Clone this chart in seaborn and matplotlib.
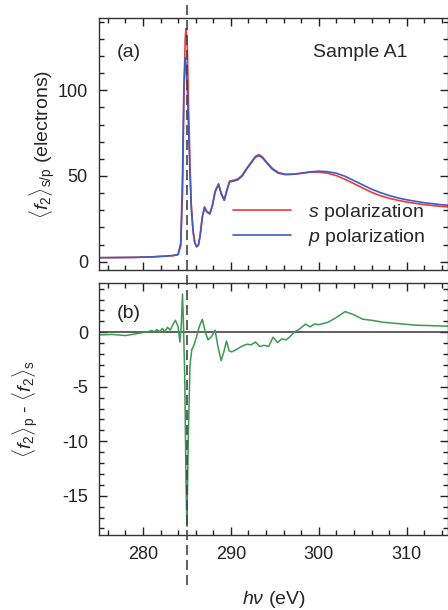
import numpy as np
import pandas as pd
import matplotlib
matplotlib.use("Agg")
import matplotlib.pyplot as plt
import seaborn as sns
from matplotlib.lines import Line2D
from matplotlib.ticker import MultipleLocator
from matplotlib.transforms import blended_transform_factory

# Painel (a): <f2> para polarizacao s e p
energia_a = [275, 277, 279, 281, 282.5, 283.5, 284.0, 284.3, 284.5, 284.65, 284.8, 284.9,
             285.05, 285.2, 285.35, 285.5, 285.7, 285.9, 286.1, 286.3, 286.5, 286.75, 287.0,
             287.25, 287.6, 287.9, 288.2, 288.6, 288.9, 289.25, 289.55, 289.85, 290.3, 290.8,
             291.3, 291.8, 292.3, 292.8, 293.2, 293.6, 294.1, 294.7, 295.4, 296.2, 297.0,
             298.0, 299.0, 300.0, 301.0, 302.0, 303.0, 304.0, 305.0, 306.0, 307.0, 308.0,
             309.0, 310.0, 311.0, 312.0, 313.0, 314.0, 315.0]
f2_s = [2.3, 2.4, 2.5, 2.8, 3.2, 3.6, 4.2, 9, 40, 92, 130, 136,
        124, 88, 57, 33, 18, 11, 8.7, 9.5, 15, 26, 32,
        29.5, 28, 33, 41, 45.5, 40, 36, 42, 47, 47.5, 48.3,
        50.5, 54.5, 58, 61.5, 62.5, 61, 58, 54.5, 52, 51, 51,
        51.5, 52.2, 52.3, 51.6, 50.2, 48, 45.5, 43, 40.5, 38.5, 37,
        35.8, 34.8, 34, 33.3, 32.7, 32.2, 31.8]
f2_p = [2.3, 2.4, 2.5, 2.8, 3.2, 3.6, 4.2, 11, 50, 102, 119, 115,
        100, 76, 51, 31, 17.5, 11, 8.8, 9.6, 15, 26, 31.5,
        29, 27.8, 32.5, 40.5, 45, 39.5, 35.8, 41.5, 46.5, 47, 47.8,
        50, 54, 57.5, 61, 61.8, 60.5, 57.5, 54, 51.6, 50.8, 51,
        51.6, 52.4, 52.8, 52.5, 51.6, 49.8, 47.3, 44.8, 42.3, 40.3, 38.6,
        37.2, 36.1, 35.2, 34.4, 33.8, 33.2, 32.8]

# Painel (b): diferenca <f2>p - <f2>s
energia_b = [275, 276.5, 278, 279.5, 280.5, 281.0, 281.3, 281.6, 281.9, 282.2, 282.5, 282.8,
             283.1, 283.4, 283.7, 284.0, 284.2, 284.35, 284.5, 284.6, 284.75, 284.9, 285.0,
             285.15, 285.35, 285.55, 285.8, 286.1, 286.4, 286.75, 287.1, 287.4, 287.8, 288.2,
             288.5, 288.9, 289.2, 289.5, 289.8, 290.1, 290.6, 291.2, 291.8, 292.3, 292.8,
             293.3, 293.8, 294.3, 294.8, 295.3, 295.8, 296.3, 296.8, 297.2, 297.8, 298.5,
             299.0, 299.5, 300.0, 301.0, 302.0, 303.0, 304.0, 305.0, 306.0, 307.5, 309.0,
             311.0, 313.0, 315.0]
dif_ps = [-0.25, -0.2, -0.3, -0.1, 0.05, 0.15, 0.05, 0.25, 0.05, 0.35, 0.05, 0.45,
          0.2, 0.7, 1.1, 0.5, -0.9, 0.5, 3.5, 1.0, -4, -14, -17.8,
          -10, -3, -1.6, -1.2, -0.4, 0.5, 1.2, 0.0, -0.7, -0.4, 0.2,
          -1.2, -2.6, -1.8, -0.8, -1.7, -1.8, -1.6, -1.3, -1.1, -1.15, -0.9,
          -1.3, -1.2, -1.3, -0.45, -0.95, -0.6, -0.7, -0.35, 0.0, 0.3, 0.75,
          0.5, 0.75, 0.7, 0.9, 1.35, 1.9, 1.6, 1.2, 1.1, 0.9, 0.8,
          0.65, 0.6, 0.55]

borda = 285.0

sns.set_theme(style="ticks")
plt.rcParams["font.family"] = ["Liberation Sans", "DejaVu Sans"]
plt.rcParams["mathtext.fontset"] = "custom"
plt.rcParams["mathtext.rm"] = "Liberation Sans"
plt.rcParams["mathtext.it"] = "Liberation Sans:italic"
plt.rcParams["mathtext.bf"] = "Liberation Sans:bold"
plt.rcParams["axes.unicode_minus"] = False

fig = plt.figure(figsize=(4.48, 6.10), dpi=100)
ax1 = fig.add_axes([0.221, 0.557, 0.779, 0.413])
ax2 = fig.add_axes([0.221, 0.123, 0.779, 0.4136])

sns.lineplot(x=energia_a, y=f2_s, ax=ax1, color="#ee3a3a", linewidth=1.2,
             label=r"$s$ polarization")
sns.lineplot(x=energia_a, y=f2_p, ax=ax1, color="#3d5cc4", linewidth=1.2,
             label=r"$p$ polarization")
sns.lineplot(x=energia_b, y=dif_ps, ax=ax2, color="#3a9a52", linewidth=1.1, legend=False)
ax2.axhline(0, color="#444444", linewidth=1.2, zorder=1)

for ax in (ax1, ax2):
    ax.set_xlim(275, 314.7)
    ax.xaxis.set_major_locator(MultipleLocator(10))
    ax.xaxis.set_minor_locator(MultipleLocator(2))
    ax.tick_params(which="both", direction="in", top=True, right=True,
                   labelsize=13, colors="#222222", width=1, pad=8)
    ax.tick_params(which="major", length=6)
    ax.tick_params(which="minor", length=3.5)
    for s in ax.spines.values():
        s.set_color("#333333")
        s.set_linewidth(1)

ax1.set_ylim(-5, 142)
ax1.yaxis.set_major_locator(MultipleLocator(50))
ax1.yaxis.set_minor_locator(MultipleLocator(10))
ax1.tick_params(labelbottom=False)

ax2.set_ylim(-18.6, 4.55)
ax2.yaxis.set_major_locator(MultipleLocator(5))
ax2.yaxis.set_minor_locator(MultipleLocator(1))

ax1.set_ylabel(r"$\langle f_2\rangle_{\rm s/p}$ (electrons)", fontsize=14)
ax2.set_ylabel(r"$\langle f_2\rangle_{\rm p}$ - $\langle f_2\rangle_{\rm s}$", fontsize=14)
ax1.yaxis.set_label_coords(-0.12, 0.5)
ax2.yaxis.set_label_coords(-0.17, 0.5)
ax2.set_xlabel(r"$h\nu$ (eV)", fontsize=14)
ax2.xaxis.set_label_coords(0.5, -0.215)

ax1.text(0.052, 0.865, "(a)", transform=ax1.transAxes, fontsize=14, va="center")
ax1.text(0.613, 0.865, "Sample A1", transform=ax1.transAxes, fontsize=14, va="center")
ax2.text(0.052, 0.876, "(b)", transform=ax2.transAxes, fontsize=14, va="center")

ax1.legend(loc="upper left", bbox_to_anchor=(0.384, 0.27), frameon=False,
           fontsize=14, handlelength=3.0, handletextpad=0.85, labelspacing=0.2,
           borderpad=0, borderaxespad=0)

# linha tracejada vertical atravessando a figura inteira
trans = blended_transform_factory(ax1.transData, fig.transFigure)
fig.add_artist(Line2D([borda, borda], [0.041, 1.0], transform=trans, color="#444444",
                      linewidth=1.2, dashes=(6, 3), zorder=3))

fig.savefig("out.png", dpi=100)
